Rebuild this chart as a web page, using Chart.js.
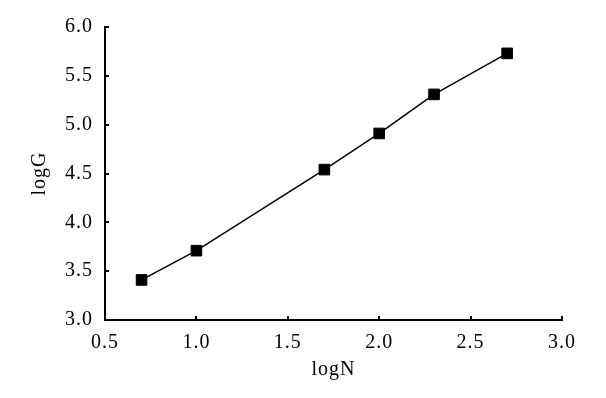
<!DOCTYPE html>
<html>
<head>
<meta charset="utf-8">
<script src="https://cdn.jsdelivr.net/npm/chart.js@4/dist/chart.umd.min.js"></script>
<style>
  html, body { margin: 0; padding: 0; background: #fff; }
  #wrap { width: 606px; height: 398px; }
</style>
</head>
<body>
<div id="wrap"><canvas id="chart" width="606" height="398"></canvas></div>
<script>
// logN / logG punten
const logN = [0.70, 1.00, 1.70, 2.00, 2.30, 2.70];
const logG = [3.41, 3.71, 4.54, 4.91, 5.31, 5.73];
const xTicks = [0.5, 1.0, 1.5, 2.0, 2.5, 3.0];
const yTicks = [3.0, 3.5, 4.0, 4.5, 5.0, 5.5, 6.0];

const serif = "'Liberation Serif', 'Times New Roman', serif";

// korte tickjes naar binnen
const innerTicks = {
  id: 'innerTicks',
  beforeDraw(chart) { chart.ctx.letterSpacing = '1px'; },
  afterDraw(chart) {
    const ctx = chart.ctx, xs = chart.scales.x, ys = chart.scales.y;
    const a = chart.chartArea;
    ctx.save();
    ctx.strokeStyle = '#000';
    ctx.lineWidth = 2;
    ctx.beginPath();
    xTicks.forEach(v => {
      const px = Math.round(xs.getPixelForValue(v));
      ctx.moveTo(px, a.bottom); ctx.lineTo(px, a.bottom - 4);
    });
    yTicks.forEach(v => {
      const py = Math.round(ys.getPixelForValue(v));
      ctx.moveTo(a.left, py); ctx.lineTo(a.left + 4, py);
    });
    ctx.stroke();
    ctx.restore();
  }
};

new Chart(document.getElementById('chart').getContext('2d'), {
  type: 'scatter',
  data: {
    datasets: [{
      data: logN.map((x, i) => ({x: x, y: logG[i]})),
      showLine: true,
      borderColor: '#000',
      borderWidth: 1.5,
      pointStyle: 'rect',
      pointRadius: 7.5,
      pointBorderWidth: 1,
      pointBackgroundColor: '#000',
      pointBorderColor: '#000'
    }]
  },
  options: {
    responsive: false,
    animation: false,
    events: [],
    layout: {padding: {left: 0, right: 44, top: 27, bottom: 0}},
    plugins: {legend: {display: false}, tooltip: {enabled: false}},
    scales: {
      x: {
        type: 'linear', min: 0.5, max: 3.0,
        afterBuildTicks: s => { s.ticks = xTicks.map(v => ({value: v})); },
        afterFit: s => { s.height = 78; },
        grid: {display: false, drawTicks: false},
        border: {display: true, color: '#000', width: 2},
        ticks: {color: '#000', padding: 11, maxRotation: 0,
                font: {family: serif, size: 20},
                callback: v => Number(v).toFixed(1)},
        title: {display: true, text: 'logN', color: '#000',
                font: {family: serif, size: 20}, padding: {top: 0, bottom: 16}}
      },
      y: {
        type: 'linear', min: 3.0, max: 6.0,
        afterBuildTicks: s => { s.ticks = yTicks.map(v => ({value: v})); },
        afterFit: s => { s.width = 105; },
        grid: {display: false, drawTicks: false},
        border: {display: true, color: '#000', width: 2},
        ticks: {color: '#000', padding: 12,
                font: {family: serif, size: 20},
                callback: v => Number(v).toFixed(1)},
        title: {display: true, text: 'logG', color: '#000',
                font: {family: serif, size: 20}, padding: {top: 28, bottom: 0}}
      }
    }
  },
  plugins: [innerTicks]
});
</script>
</body>
</html>
